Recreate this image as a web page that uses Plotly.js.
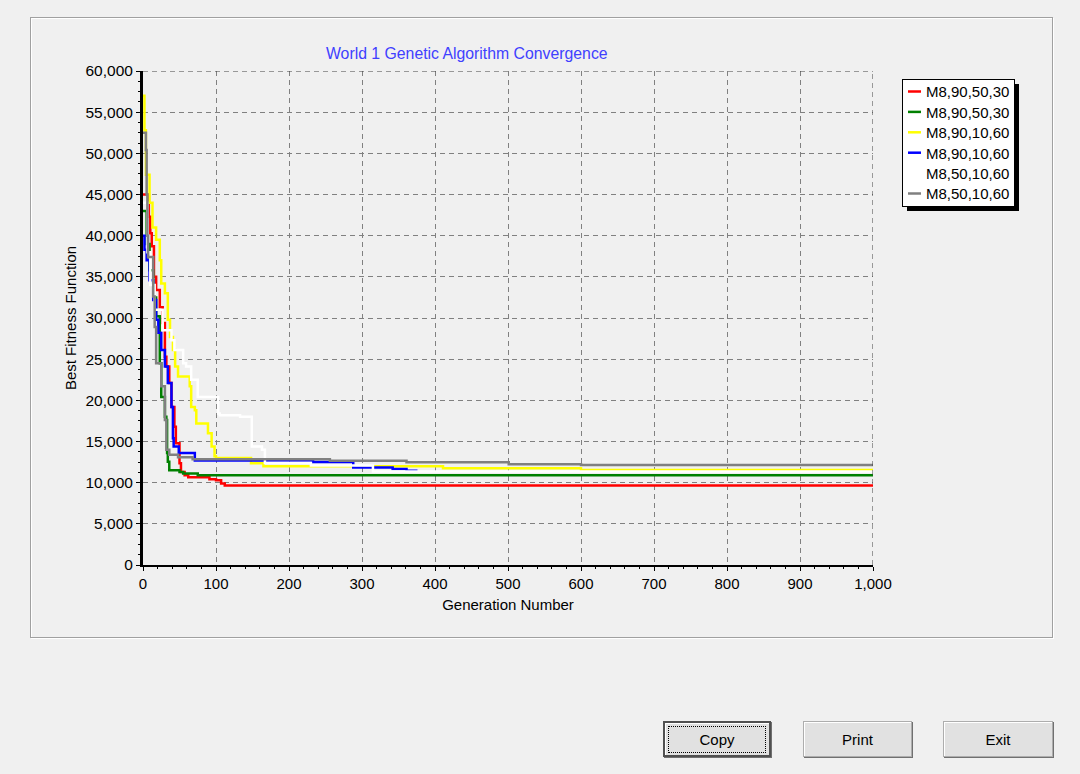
<!DOCTYPE html>
<html>
<head>
<meta charset="utf-8">
<script src="https://cdn.plot.ly/plotly-3.0.1.min.js"></script>
<style>
  html, body { margin:0; padding:0; background:#f0f0f0; width:1080px; height:774px; overflow:hidden; font-family:"Liberation Sans", Arial, sans-serif; }
  #panel { position:absolute; left:30px; top:17px; width:1021px; height:619px; border:1px solid #a0a0a0; box-shadow: inset 1px 1px 0 #ffffff, 1px 1px 0 #ffffff; z-index:0; }
  #shadow { position:absolute; background:#000; z-index:0; }
  #chart { position:absolute; left:0; top:0; width:1080px; height:774px; z-index:1; }
  .btn { position:absolute; top:721px; height:36px; background:#e1e1e1; border:1px solid #adadad; box-shadow: inset 1px 1px 0 #ffffff, 1px 1px 0 #707070; font-family:"Liberation Sans", Arial, sans-serif; font-size:15px; color:#000; display:flex; align-items:center; justify-content:center; box-sizing:border-box; z-index:2; }
  #copy { left:663px; width:108px; border:2px solid #505050; }
  #copy span { border:1px dotted #000; padding:4px 30px; }
  #print { left:803px; width:109px; }
  #exit { left:943px; width:110px; }
</style>
</head>
<body>
<div id="panel"></div>
<div id="shadow"></div>
<div id="chart"></div>
<div class="btn" id="copy"><span>Copy</span></div>
<div class="btn" id="print">Print</div>
<div class="btn" id="exit">Exit</div>
<script>
// Series names and colours
const seriesNames = ['M8,90,50,30', 'M8,90,50,30', 'M8,90,10,60', 'M8,90,10,60', 'M8,50,10,60', 'M8,50,10,60'];
const seriesColors = ['#ff0000', '#008000', '#ffff00', '#0000ff', '#ffffff', '#808080'];

// Generation numbers where the best fitness changes, and the best fitness values
const redGen = [0, 8, 10, 12, 15, 18, 23, 27, 30, 32, 36, 39, 43, 45, 50, 52, 57, 62, 91, 100, 107, 112, 1000];
const redFit = [45000, 42300, 40300, 38700, 35000, 33400, 31300, 29400, 25300, 24100, 22100, 19200, 16800, 14800, 12350, 11300, 10900, 10650, 10400, 10300, 9900, 9650, 9650];

const greenGen = [0, 5, 9, 14, 18, 23, 25, 30, 32, 33, 34, 36, 50, 55, 75, 1000];
const greenFit = [43000, 39000, 35800, 32500, 30200, 24500, 20400, 18000, 17600, 13600, 12550, 11500, 11300, 11100, 10900, 10900];

const yellowGen = [0, 2, 4, 9, 13, 18, 23, 25, 30, 34, 37, 41, 44, 48, 64, 66, 71, 73, 89, 94, 98, 100, 148, 165, 411, 600, 1000];
const yellowFit = [57000, 52800, 47400, 44000, 41000, 39500, 37000, 34200, 33000, 29800, 27700, 26100, 24100, 22900, 21700, 19200, 18800, 17200, 16000, 14400, 13200, 13000, 12350, 12000, 11750, 11550, 11550];

const blueGen = [0, 2, 5, 9, 14, 18, 21, 25, 30, 34, 39, 41, 42, 49, 71, 233, 288, 342, 361, 376];
const blueFit = [40000, 38300, 37000, 34600, 32200, 29800, 28200, 26100, 24100, 22100, 19200, 15400, 14400, 13600, 12700, 12500, 11850, 11650, 11450, 11450];

const whiteGen = [0, 6, 10, 16, 27, 39, 43, 55, 59, 66, 75, 103, 105, 133, 149, 163, 167, 230, 315, 1000];
const whiteFit = [44000, 38000, 34000, 31000, 28500, 27300, 26100, 24500, 24100, 22500, 20400, 18400, 18200, 18000, 14400, 14000, 12400, 12100, 11350, 11350];

const grayGen = [0, 4, 5, 6, 7, 14, 16, 18, 25, 30, 32, 36, 48, 68, 256, 361, 501, 600, 1000];
const grayFit = [52500, 50400, 45000, 40000, 37400, 32600, 28900, 24500, 21700, 17600, 14000, 13400, 13100, 12850, 12650, 12470, 12250, 12150, 12150];

const xs = [redGen, greenGen, yellowGen, blueGen, whiteGen, grayGen];
const ys = [redFit, greenFit, yellowFit, blueFit, whiteFit, grayFit];

const traces = xs.map((x, i) => ({
  type: 'scatter', mode: 'lines', x: x, y: ys[i], name: seriesNames[i],
  line: { color: seriesColors[i], width: 2.5, shape: 'hv' }
}));

const W = 1080, H = 774;
const L = 143, R = 873, T = 71, B = 565;
const FONT = '"Liberation Sans", Arial, sans-serif';

const layout = {
  width: W, height: H,
  margin: { l: L, r: W - R, t: T, b: H - B, pad: 0 },
  paper_bgcolor: 'rgba(0,0,0,0)',
  plot_bgcolor: 'rgba(0,0,0,0)',
  font: { family: FONT, size: 15, color: '#000' },
  showlegend: true,
  title: { text: 'World 1 Genetic Algorithm Convergence', font: { family: FONT, size: 15.8, color: '#4040ff' },
           x: 326 / W, xref: 'container', xanchor: 'left', y: 1 - 53 / H, yref: 'container', yanchor: 'middle' },
  xaxis: {
    range: [0, 1000], dtick: 100, tick0: 0, tickformat: ',d',
    showline: true, linecolor: '#000', linewidth: 2,
    ticks: 'outside', ticklen: 4, tickcolor: '#000',
    showgrid: true, gridcolor: '#808080', griddash: '5px,4px', gridwidth: 1,
    zeroline: false,
    minor: { dtick: 20, ticks: 'outside', ticklen: 2, tickcolor: '#000', showgrid: false },
    title: { text: 'Generation Number', font: { family: FONT, size: 15 }, standoff: 8 },
    tickfont: { family: FONT, size: 15 }
  },
  yaxis: {
    range: [0, 60000], dtick: 5000, tick0: 0, tickformat: ',d',
    showline: true, linecolor: '#000', linewidth: 3,
    ticks: 'outside', ticklen: 4, tickcolor: '#000',
    showgrid: true, gridcolor: '#808080', griddash: '5px,4px', gridwidth: 1,
    zeroline: false,
    minor: { dtick: 1250, ticks: 'outside', ticklen: 2, tickcolor: '#000', showgrid: false },
    title: { text: 'Best Fitness Function', font: { family: FONT, size: 15 }, standoff: 6 },
    tickfont: { family: FONT, size: 15.5 }
  },
  legend: {
    x: (902 - L) / (R - L), xanchor: 'left', xref: 'paper',
    y: (B - 79) / (B - T), yanchor: 'top', yref: 'paper',
    bgcolor: '#ffffff', bordercolor: '#000', borderwidth: 1,
    font: { family: FONT, size: 15, color: '#000' },
    itemwidth: 30, tracegroupgap: 0
  },
  shapes: [
    { type: 'line', xref: 'x', yref: 'paper', x0: 1000, x1: 1000, y0: 0, y1: 1, line: { color: '#404040', width: 1, dash: '5px,4px' } },
    { type: 'line', xref: 'paper', yref: 'y', x0: 0, x1: 1, y0: 60000, y1: 60000, line: { color: '#404040', width: 1, dash: '5px,4px' } }
  ]
};

Plotly.newPlot('chart', traces, layout, { displayModeBar: false, staticPlot: true }).then(() => {
  // compact legend entries (short line sample, tighter rows) like the original chart control
  const leg = document.querySelector('#chart .legend');
  if (leg) {
    const items = leg.querySelectorAll('.traces');
    let x0 = 0;
    if (items.length) {
      const m = /translate\(\s*([-\d.]+)[ ,]+([-\d.]+)/.exec(items[0].getAttribute('transform') || '');
      if (m) { x0 = parseFloat(m[1]); }
    }
    const y0 = 12.5, rowGap = 20.4;
    items.forEach((g, i) => {
      g.setAttribute('transform', 'translate(' + x0 + ',' + (y0 + i * rowGap) + ')');
      g.querySelectorAll('.legendlines path, .legendfill path').forEach(p => {
        const d = p.getAttribute('d') || '';
        if (/^M5,0h30/.test(d)) p.setAttribute('d', 'M5,0h13');
      });
      const t = g.querySelector('text.legendtext');
      if (t) {
        t.setAttribute('x', 23);
        t.querySelectorAll('tspan').forEach(s => { if (s.getAttribute('x')) s.setAttribute('x', 23); });
      }
    });
    const bg = leg.querySelector('rect.bg');
    if (bg) {
      bg.setAttribute('width', 112);
      bg.setAttribute('height', 127);
      const r = bg.getBoundingClientRect();
      const sh = document.getElementById('shadow');
      sh.style.left = (r.left + 4) + 'px';
      sh.style.top = (r.top + 4) + 'px';
      sh.style.width = r.width + 'px';
      sh.style.height = r.height + 'px';
    }
  }
});
</script>
</body>
</html>
